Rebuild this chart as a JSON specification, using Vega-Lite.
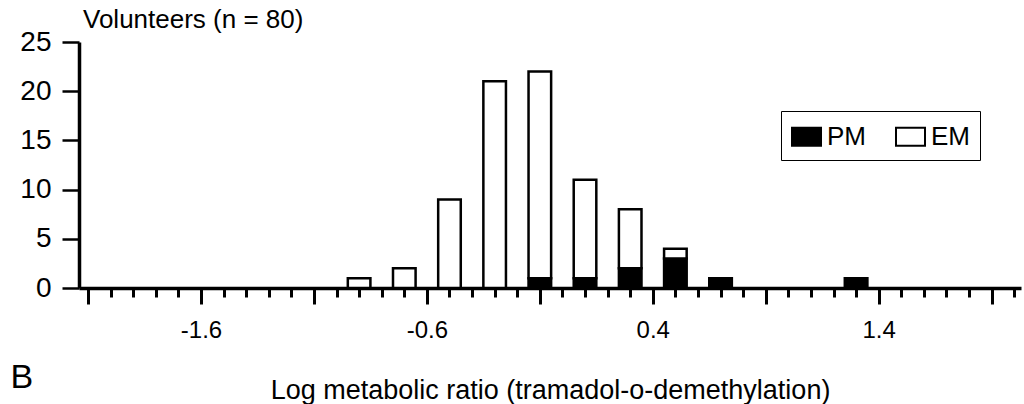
{
  "$schema": "https://vega.github.io/schema/vega-lite/v6.json",
  "autosize": "none",
  "width": 942,
  "height": 246,
  "padding": {"left": 79, "top": 42, "right": 3, "bottom": 116},
  "background": "white",
  "config": {
    "view": {"stroke": null},
    "font": "Liberation Sans",
    "axis": {"grid": false, "domainColor": "black", "tickColor": "black", "labelColor": "black", "titleColor": "black", "labelFont": "Liberation Sans", "titleFont": "Liberation Sans", "titleFontWeight": "normal"}
  },
  "title": {"text": "Volunteers (n = 80)", "anchor": "start", "frame": "group", "font": "Liberation Sans", "fontSize": 26, "fontWeight": "normal", "color": "black", "baseline": "alphabetic", "offset": 0, "dx": 4, "dy": 26},
  "data": {
    "values": [
      {"bin_start": -0.95, "bin_end": -0.85, "group": "EM", "count": 1},
      {"bin_start": -0.75, "bin_end": -0.65, "group": "EM", "count": 2},
      {"bin_start": -0.55, "bin_end": -0.45, "group": "EM", "count": 9},
      {"bin_start": -0.35, "bin_end": -0.25, "group": "EM", "count": 21},
      {"bin_start": -0.15, "bin_end": -0.05, "group": "PM", "count": 1},
      {"bin_start": -0.15, "bin_end": -0.05, "group": "EM", "count": 21},
      {"bin_start": 0.05, "bin_end": 0.15, "group": "PM", "count": 1},
      {"bin_start": 0.05, "bin_end": 0.15, "group": "EM", "count": 10},
      {"bin_start": 0.25, "bin_end": 0.35, "group": "PM", "count": 2},
      {"bin_start": 0.25, "bin_end": 0.35, "group": "EM", "count": 6},
      {"bin_start": 0.45, "bin_end": 0.55, "group": "PM", "count": 3},
      {"bin_start": 0.45, "bin_end": 0.55, "group": "EM", "count": 1},
      {"bin_start": 0.65, "bin_end": 0.75, "group": "PM", "count": 1},
      {"bin_start": 1.25, "bin_end": 1.35, "group": "PM", "count": 1}
    ]
  },
  "transform": [
    {"stack": "count", "groupby": ["bin_start"], "sort": [{"field": "group", "order": "descending"}], "as": ["count_lo", "count_hi"]}
  ],
  "mark": {"type": "bar", "stroke": "black", "strokeWidth": 2.5},
  "encoding": {
    "x": {
      "field": "bin_start", "type": "quantitative",
      "scale": {"domain": [-2.14, 2.03], "nice": false, "zero": false},
      "axis": {
        "values": [-2.1,-2,-1.9,-1.8,-1.7,-1.6,-1.5,-1.4,-1.3,-1.2,-1.1,-1,-0.9,-0.8,-0.7,-0.6,-0.5,-0.4,-0.3,-0.2,-0.1,0,0.1,0.2,0.3,0.4,0.5,0.6,0.7,0.8,0.9,1,1.1,1.2,1.3,1.4,1.5,1.6,1.7,1.8,1.9,2],
        "tickSize": {"condition": {"test": "(round(datum.value*10)+21)%5==0", "value": 16}, "value": 9},
        "tickWidth": 3,
        "domainWidth": 3.5,
        "labelExpr": "(round(datum.value*10)+16)%10==0 ? '' + datum.value : ''",
        "labelFontSize": 24,
        "labelPadding": 26,
        "labelBaseline": "middle",
        "labelFlush": false,
        "labelOverlap": false,
        "title": "Log metabolic ratio (tramadol-o-demethylation)",
        "titleFontSize": 27,
        "titleBaseline": "alphabetic",
        "titleY": 110
      }
    },
    "x2": {"field": "bin_end"},
    "y": {
      "field": "count_lo", "type": "quantitative",
      "scale": {"domain": [0, 25], "nice": false},
      "axis": {
        "values": [0, 5, 10, 15, 20, 25],
        "tickSize": 17,
        "tickWidth": 2.5,
        "domainWidth": 3.5,
        "labelFontSize": 28,
        "labelPadding": 11,
        "title": "B",
        "titleAngle": 0,
        "titleFontSize": 34,
        "titleX": -69,
        "titleY": 335,
        "titleAlign": "left",
        "titleBaseline": "middle"
      }
    },
    "y2": {"field": "count_hi"},
    "color": {
      "field": "group", "type": "nominal",
      "scale": {"domain": ["PM", "EM"], "range": ["black", "white"]},
      "legend": {
        "orient": "none", "legendX": 702, "legendY": 69,
        "direction": "horizontal", "title": null,
        "symbolType": "M-1,-0.62H1V0.62H-1Z", "symbolSize": 841,
        "symbolStrokeColor": "black", "symbolStrokeWidth": 2,
        "labelFont": "Liberation Sans", "labelFontSize": 26, "labelColor": "black",
        "labelOffset": 5, "columnPadding": 26, "padding": 10,
        "strokeColor": "black"
      }
    }
  }
}
